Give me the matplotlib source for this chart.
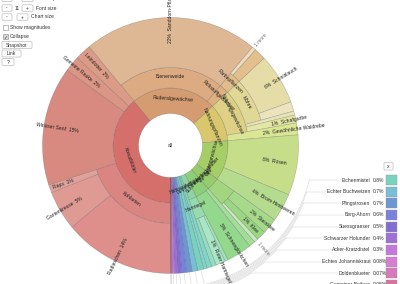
import numpy as np
import matplotlib.pyplot as plt
from matplotlib.patches import Wedge, FancyBboxPatch, Rectangle

plt.rcParams['font.family'] = ['Liberation Sans', 'DejaVu Sans']

W, H = 400, 284
CX, CY = 170.5, H - 145.5
RINGS = [32, 57.5, 78, 94, 128]
R_OUT = 128

# ---- data: leaves of the Krona tree (path, share of total in %) ----
leaf_paths = [
    ("Kreuzblütler", "Kohlarten", "Radieschen"),
    ("Kreuzblütler", "Kohlarten", "Gartenkresse"),
    ("Kreuzblütler", "Kohlarten", "Raps"),
    ("Kreuzblütler", "Weisser Senf"),
    ("Kreuzblütler", "Gemeine Rauke"),
    ("Kreuzblütler", "Leindotter"),
    ("Ruderalgewächse", "Bienenweide", "Sanddorn-Pflaume"),
    ("Ruderalgewächse", "Rohstoffgewächse", "Färbepflanzen", "1 more"),
    ("Ruderalgewächse", "Rohstoffgewächse", "Färbepflanzen", ""),
    ("Nahrungspflanzen", "Nahrungsgewächse", "Möhre", "Schnittlauch"),
    ("Nahrungspflanzen", "Nahrungsgewächse", "Möhre", ""),
    ("Nahrungspflanzen", "Nahrungsgewächse", ""),
    ("Nahrungspflanzen", "Nahrungsgewächse", "Schafgarbe"),
    ("Nahrungspflanzen", "Gewöhnliche Waldrebe"),
    ("Rosengewächse", "Rosen"),
    ("Rosengewächse", "Brom-Himbeeren"),
    ("Schmetterlingsblütler", "", "Steinklee"),
    ("Schmetterlingsblütler", "", "Klee"),
    ("Schmetterlingsblütler", "", "1 more"),
    ("Lippenblütlerartige", ""),
    ("Lippenblütlerartige", "Schneeglöckchen"),
    ("Hahnenfußartige", "Hartriegel", ""),
    ("Hahnenfußartige", "Hartriegel", "Roter Hartriegel"),
    ("Hahnenfußartige", "Hartriegel", ""),
    ("",),
    ("",),
    ("Eichenmistel",),
    ("Echter Buchweizen",),
    ("Pfingstrosen",),
    ("Berg-Ahorn",),
    ("Suessgraeser",),
    ("Schwarzer Holunder",),
    ("Acker-Kratzdistel",),
    ("Echtes Johanniskraut",),
    ("Doldenblueter",),
    ("Gemeiner Beifuss",),
]
leaf_values = [14, 5, 1, 15, 2, 2,
               22, 0.5, 1.5,
               6.4, 1.2, 0.5, 1.0, 1.5,
               7.6, 3.6, 2.0, 1.2, 0.5, 0.8, 3.2,
               0.4, 1.2, 0.6, 0.6, 0.4,
               0.8, 0.7, 0.7, 0.6, 0.5, 0.4, 0.3, 0.08, 0.07, 0.05]
legend_names = ["Eichenmistel", "Echter Buchweizen", "Pfingstrosen", "Berg-Ahorn",
                "Suessgraeser", "Schwarzer Holunder", "Acker-Kratzdistel",
                "Echtes Johanniskraut", "Doldenblueter", "Gemeiner Beifuss"]

leaf_colors = ["#de8f8c", "#df9a94", "#e0a19a", "#d98a80", "#da9584", "#dc9b86",
               "#deb795", "#eddcbd", "#e2bf8c",
               "#e6dca8", "#ebe4be", "#e9e5b8", "#e4e6a4", "#dbe695",
               "#c6de8a", "#b5dc8e", "#a6d98a", "#9ad684", "#c9e8bb", "#a4dd9a", "#93d88c",
               "#a2e2b8", "#a8e6c6", "#95dcc0", "#7fd8c6", "#86d4cf",
               "#78d2be", "#78bed7", "#6e96d2", "#7882dc", "#826ed2", "#a06ed7",
               "#c378dc", "#d77dd2", "#d778b9", "#d773a0"]
node_colors = {
    ("Kreuzblütler",): "#d56f6b",
    ("Kreuzblütler", "Kohlarten"): "#db8582",
    ("Ruderalgewächse",): "#d59c72",
    ("Ruderalgewächse", "Bienenweide"): "#dcab82",
    ("Ruderalgewächse", "Rohstoffgewächse"): "#ddb07e",
    ("Ruderalgewächse", "Rohstoffgewächse", "Färbepflanzen"): "#e2bc8a",
    ("Nahrungspflanzen",): "#d8c76d",
    ("Nahrungspflanzen", "Nahrungsgewächse"): "#ded186",
    ("Nahrungspflanzen", "Nahrungsgewächse", "Möhre"): "#e2d896",
    ("Rosengewächse",): "#a5cf66",
    ("Schmetterlingsblütler",): "#96cd6a",
    ("Schmetterlingsblütler", ""): "#a2d67e",
    ("Lippenblütlerartige",): "#8ccf78",
    ("Hahnenfußartige",): "#8fd3a2",
    ("Hahnenfußartige", "Hartriegel"): "#98dab0",
}

# ---- layout ----
scale = 360.0 / sum(leaf_values)
spans = []
ang = 270.0
for v in leaf_values:
    spans.append((ang - v * scale, ang))
    ang -= v * scale

nodes = {}
for path, (a1, a0) in zip(leaf_paths, spans):
    for d in range(1, len(path)):
        key = path[:d]
        if key in nodes:
            nodes[key][0] = min(nodes[key][0], a1)
        else:
            nodes[key] = [a1, a0]

fig = plt.figure(figsize=(4, 2.84), dpi=100)
ax = fig.add_axes([0, 0, 1, 1])
ax.set_xlim(0, W)
ax.set_ylim(0, H)
ax.axis('off')

EDGE = (0.3, 0.3, 0.3, 0.35)
FS = 3.6
KEY = '#d2d2d2'


def Y(y):
    return H - y


def pol(r, a):
    t = np.radians(a)
    return CX + r * np.cos(t), CY + r * np.sin(t)


# inner rings
for key, (a1, a0) in nodes.items():
    d = len(key)
    ax.add_patch(Wedge((CX, CY), RINGS[d], a1, a0, width=RINGS[d] - RINGS[d - 1],
                       fc=node_colors[key], ec=EDGE, lw=0.4))
# leaves
for path, (a1, a0), c in zip(leaf_paths, spans, leaf_colors):
    d = len(path)
    ax.add_patch(Wedge((CX, CY), R_OUT, a1, a0, width=R_OUT - RINGS[d - 1],
                       fc=c, ec=EDGE, lw=0.4))

# inner labels (tangential, baseline on the ring middle)
for key, (a1, a0) in nodes.items():
    name = key[-1]
    if not name:
        continue
    d = len(key)
    a = (a0 + a1) / 2
    x, y = pol((RINGS[d] + RINGS[d - 1]) / 2, a)
    rot = (a - 90 + 180) % 360 - 180
    if rot > 90:
        rot -= 180
    elif rot < -90:
        rot += 180
    ax.text(x, y, name, rotation=rot, rotation_mode='anchor', ha='center', va='baseline',
            fontsize=FS, color='#222')

# leaf labels (radial)
for path, (a1, a0), v in zip(leaf_paths, spans, leaf_values):
    name = path[-1]
    if not name or name in legend_names:
        continue
    d = len(path)
    a = (a0 + a1) / 2
    an = (a + 180) % 360 - 180
    right = -90.01 <= an <= 90.01
    if name == "1 more":
        x, y = pol(R_OUT + 3, a)
        ax.text(x, y, "1 more", rotation=an if right else an - 180, rotation_mode='anchor',
                ha='left' if right else 'right', va='center', fontsize=FS, color='#777')
        continue
    x, y = pol((RINGS[d - 1] + R_OUT) / 2, a)
    pct = f"{round(v):d}%"
    if right:
        ax.text(x, y, f"{pct}  {name}", rotation=an, rotation_mode='anchor',
                ha='left', va='center', fontsize=FS, color='#222')
    else:
        ax.text(x, y, f"{name}  {pct}", rotation=an - 180, rotation_mode='anchor',
                ha='right', va='center', fontsize=FS, color='#222')

ax.text(CX, CY, "all", ha='center', va='center', fontsize=FS, color='#222')

# ---- key lines and legend ----
row_y0, row_dy = 180, 11.65
for i, name in enumerate(legend_names):
    idx = [p[-1] for p in leaf_paths].index(name)
    a1, a0 = spans[idx]
    a = (a0 + a1) / 2
    ry = Y(row_y0 + i * row_dy)
    R = 143 + 1.0 * i
    phi = np.degrees(np.arcsin((ry - CY) / R))
    xs, ys = zip(pol(R_OUT, a), pol(R, a))
    ax.plot(xs, ys, color=KEY, lw=0.35)
    t = np.linspace(a, phi, 60)
    ax.plot(CX + R * np.cos(np.radians(t)), CY + R * np.sin(np.radians(t)), color=KEY, lw=0.35)
    x_start = CX + R * np.cos(np.radians(phi))
    ax.plot([x_start, 368], [ry, ry], color=KEY, lw=0.35)
    v = leaf_values[idx]
    pct = f"{v:.1f}%" if v >= 0.1 else f"{v:.2f}%"
    ax.text(370.5, ry, name, ha='right', va='center', fontsize=FS, color='#333',
            bbox=dict(fc='white', ec='none', pad=0.3))
    ax.text(372.8, ry, pct, ha='left', va='center', fontsize=FS, color='#333')
    ax.add_patch(Rectangle((386, ry - 5), 10.5, 10, fc=leaf_colors[idx], ec='#999', lw=0.3))

ax.add_patch(FancyBboxPatch((384, Y(170)), 9, 7.5, boxstyle="round,pad=0,rounding_size=1",
                            fc='white', ec='#bbb', lw=0.5))
ax.text(388.5, Y(166.2), "x", ha='center', va='center', fontsize=FS, color='#333')


# ---- controls ----
def button(x0, y0, w, h, label=""):
    ax.add_patch(FancyBboxPatch((x0, Y(y0 + h)), w, h, boxstyle="round,pad=0,rounding_size=1.2",
                                fc='white', ec='#bdbdbd', lw=0.5))
    if label:
        ax.text(x0 + w / 2, Y(y0 + h / 2), label, ha='center', va='center', fontsize=FS, color='#333')


button(2, -5, 10, 6.5, "-")
ax.text(17.5, Y(-1.7), "4", ha='center', va='center', fontsize=FS, color='#333')
button(22, -5, 11, 6.5, "+")
ax.text(36, Y(-1.7), "Max depth", ha='left', va='center', fontsize=FS, color='#333')
button(2, 4.8, 10, 6.5, "-")
ax.text(17.2, Y(8), "11", ha='center', va='center', fontsize=FS, color='#333')
button(22, 4.8, 11, 6.5, "+")
ax.text(36, Y(8), "Font size", ha='left', va='center', fontsize=FS, color='#333')
button(2, 13.8, 10, 6.5, "-")
button(17, 13.8, 11, 6.5, "+")
ax.text(31, Y(17), "Chart size", ha='left', va='center', fontsize=FS, color='#333')
ax.add_patch(Rectangle((3, Y(29.5)), 4.5, 4.5, fc='white', ec='#888', lw=0.4))
ax.text(9.5, Y(27.3), "Show magnitudes", ha='left', va='center', fontsize=FS, color='#333')
ax.add_patch(Rectangle((3, Y(38.5)), 4.5, 4.5, fc='#d8d8d8', ec='#888', lw=0.4))
ax.text(5.25, Y(36.3), "✓", ha='center', va='center', fontsize=3.5, color='#333',
        family='DejaVu Sans')
ax.text(9.5, Y(36.3), "Collapse", ha='left', va='center', fontsize=FS, color='#333')
button(2, 41.5, 30, 7, "Snapshot")
button(2, 50, 19, 7, "Link")
button(2, 58.5, 12, 7, "?")
ax.text(372, Y(-1.6), "Krona 2.7.1", ha='center', va='center', fontsize=FS, color='#666')

fig.savefig("out.png", dpi=100)
